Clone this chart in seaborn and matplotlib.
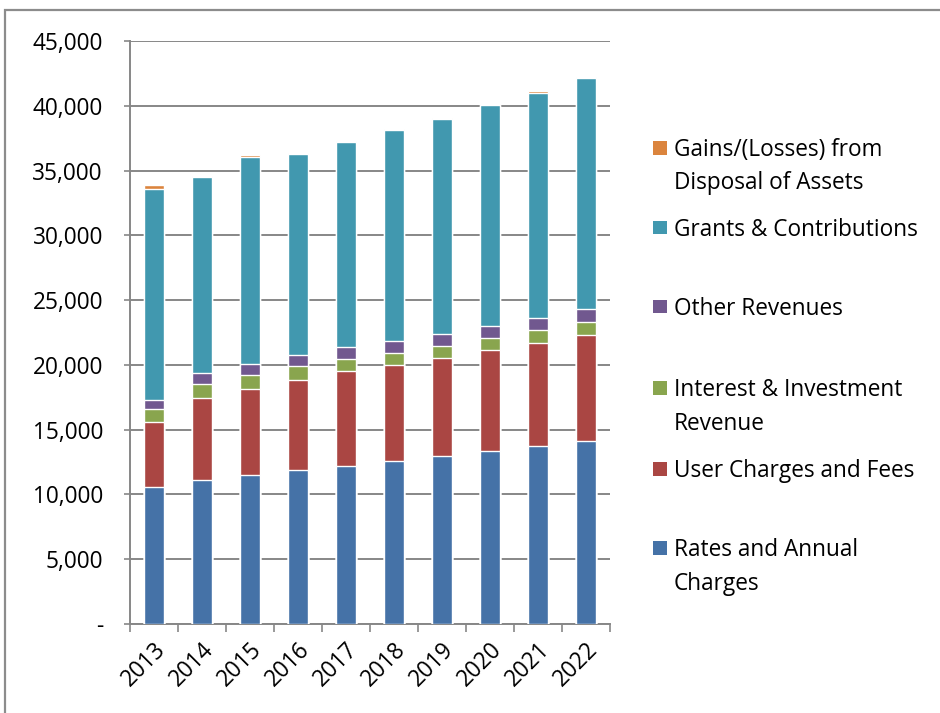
import matplotlib
matplotlib.use("Agg")
import matplotlib.pyplot as plt
from matplotlib.patches import Rectangle
from matplotlib.ticker import FuncFormatter, FixedLocator
import numpy as np
import pandas as pd
import seaborn as sns

# Revenue by source, in dollars ('000), stacked bottom to top
years = ["2013", "2014", "2015", "2016", "2017", "2018", "2019", "2020", "2021", "2022"]
rates_annual = [10550, 11120, 11500, 11890, 12220, 12560, 12970, 13360, 13740, 14150]
user_charges = [5070, 6290, 6610, 6910, 7280, 7430, 7560, 7760, 7920, 8150]
interest_inv = [1000, 1140, 1080, 1080, 970, 920, 920, 950, 1000, 1030]
other_rev = [670, 820, 850, 900, 880, 930, 930, 970, 930, 950]
grants_contrib = [16320, 15140, 16040, 15500, 15840, 16300, 16630, 17020, 17420, 17870]
gains_disposal = [280, 80, 130, 80, 100, 70, 70, 80, 110, 70]

series_names = [
    "Rates and Annual Charges",
    "User Charges and Fees",
    "Interest & Investment Revenue",
    "Other Revenues",
    "Grants & Contributions",
    "Gains/(Losses) from Disposal of Assets",
]
series_values = [rates_annual, user_charges, interest_inv, other_rev,
                 grants_contrib, gains_disposal]
colors = ["#4572A7", "#AA4643", "#89A54E", "#71588F", "#4198AF", "#DB843D"]

# legend text split into the lines it is shown on
legend_lines = {
    "Gains/(Losses) from Disposal of Assets": ["Gains/(Losses) from", "Disposal of Assets"],
    "Grants & Contributions": ["Grants & Contributions"],
    "Other Revenues": ["Other Revenues"],
    "Interest & Investment Revenue": ["Interest & Investment", "Revenue"],
    "User Charges and Fees": ["User Charges and Fees"],
    "Rates and Annual Charges": ["Rates and Annual", "Charges"],
}

df = pd.DataFrame({"year": years})
for name, vals in zip(series_names, series_values):
    df[name] = vals
# cumulative tops of each layer
cum = df[series_names].cumsum(axis=1)

sns.set_theme(style="white")
plt.rcParams["font.family"] = ["Open Sans", "DejaVu Sans"]

W, H = 940, 713
fig = plt.figure(figsize=(W / 100, H / 100), dpi=100)
ax = fig.add_axes([130 / W, 1 - 624 / H, 480 / W, 583 / H])

# draw from the tallest cumulative layer down so each lower layer covers the one above
for name, col in reversed(list(zip(series_names, colors))):
    sns.barplot(x=df["year"], y=cum[name], color=col, saturation=1,
                width=0.4, ax=ax, zorder=3)

ax.set_ylim(0, 45000)
ax.set_xlim(-0.5, len(years) - 0.5)
ax.set_xlabel("")
ax.set_ylabel("")

grid_col = "#878787"
ax.yaxis.set_major_locator(FixedLocator(np.arange(0, 45001, 5000)))
ax.yaxis.set_major_formatter(FuncFormatter(lambda v, p: "-" if v == 0 else f"{int(v):,}"))
ax.grid(axis="y", color=grid_col, linewidth=1.4, zorder=0)
ax.set_axisbelow(True)

for s in ["top", "right"]:
    ax.spines[s].set_visible(False)
for s in ["left", "bottom"]:
    ax.spines[s].set_color(grid_col)
    ax.spines[s].set_linewidth(1.4)

tick_fs = 16.3
ax.tick_params(axis="y", which="major", length=4.5, width=1.2, color=grid_col,
               direction="out", pad=15, labelsize=tick_fs, labelcolor="black", left=True)

ax.set_xticks(range(len(years)))
ax.set_xticklabels(years, rotation=45, ha="right", va="top", rotation_mode="anchor")
ax.set_xticks(np.arange(-0.5, len(years)), minor=True)
ax.tick_params(axis="x", which="major", length=0, pad=10, labelsize=tick_fs,
               labelcolor="black")
ax.tick_params(axis="x", which="minor", length=5.5, width=1.2, color=grid_col,
               direction="out", bottom=True)

# legend, top entry first
leg_fs = 16.3
entries = [
    ("Gains/(Losses) from Disposal of Assets", [156, 189]),
    ("Grants & Contributions", [235.5]),
    ("Other Revenues", [315]),
    ("Interest & Investment Revenue", [396, 429.5]),
    ("User Charges and Fees", [477]),
    ("Rates and Annual Charges", [556, 589.5]),
]
for name, baselines in entries:
    col = colors[series_names.index(name)]
    b0 = baselines[0]
    fig.add_artist(Rectangle((653 / W, 1 - (b0 - 1.5) / H), 13.5 / W, 13.5 / H,
                             transform=fig.transFigure, color=col, lw=0))
    for line, b in zip(legend_lines[name], baselines):
        fig.text(674 / W, 1 - b / H, line, fontsize=leg_fs, va="baseline",
                 ha="left", color="black")

# chart border
fig.add_artist(Rectangle((4.5 / W, -0.1), 1.2, 1.1 - 10.5 / H, transform=fig.transFigure,
                         fill=False, edgecolor="#8c8c8c", lw=1.6))

fig.savefig("out.png", dpi=100)
